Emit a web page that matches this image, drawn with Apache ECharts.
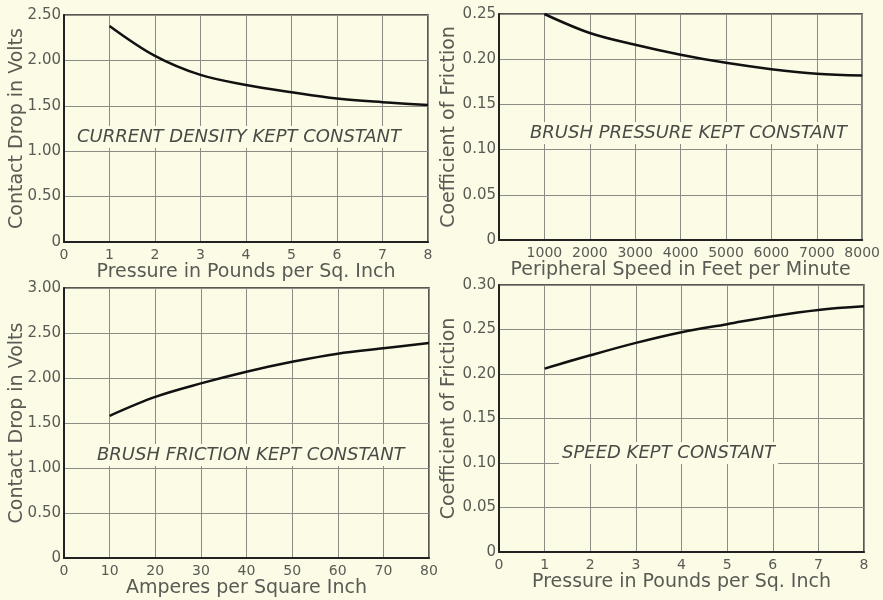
<!DOCTYPE html>
<html>
<head>
<meta charset="utf-8">
<title>Contact drop and coefficient of friction</title>
<script src="https://cdn.jsdelivr.net/npm/echarts@6/dist/echarts.min.js"></script>
<style>
  html, body { margin: 0; padding: 0; background: #fcfbe6; }
  #app { width: 883px; height: 600px; }
</style>
</head>
<body>
<div id="app"></div>
<script>
// values
const pressureX = [1, 2, 3, 4, 5, 6, 7, 8];
const dropVsPressure = [2.38, 2.05, 1.84, 1.73, 1.65, 1.58, 1.54, 1.51];

const speedX = [1000, 2000, 3000, 4000, 5000, 6000, 7000, 8000];
const frictionVsSpeed = [0.25, 0.229, 0.216, 0.205, 0.196, 0.189, 0.184, 0.182];

const amperesX = [10, 20, 30, 40, 50, 60, 70, 80];
const dropVsAmperes = [1.58, 1.79, 1.94, 2.07, 2.18, 2.27, 2.33, 2.39];

const pressureX2 = [1, 2, 3, 4, 5, 6, 7, 8];
const frictionVsPressure = [0.206, 0.221, 0.235, 0.247, 0.256, 0.265, 0.272, 0.276];

const notes = [
  "CURRENT DENSITY KEPT CONSTANT",
  "BRUSH PRESSURE KEPT CONSTANT",
  "BRUSH FRICTION KEPT CONSTANT",
  "SPEED KEPT CONSTANT"
];

const INK = "#222";
const TEXT = "#5a5a55";
const PAPER = "#fcfbe6";
const FONT = "DejaVu Sans";

const pairs = (xs, ys) => xs.map((x, i) => [x, ys[i]]);
const fix2 = v => (v === 0 ? "0" : v.toFixed(2));

function xAxis(gridIndex, name, max, interval, hideZero) {
  return {
    type: "value",
    gridIndex,
    min: 0,
    max,
    interval,
    name,
    nameLocation: "middle",
    nameGap: 18,
    nameTextStyle: { color: TEXT, fontSize: 19, fontFamily: FONT },
    axisLine: { show: true, lineStyle: { color: INK, width: 2 } },
    axisTick: { show: false },
    axisLabel: {
      color: TEXT,
      fontSize: 14,
      fontFamily: FONT,
      margin: 6,
      showMinLabel: !hideZero,
      formatter: v => String(v)
    },
    splitLine: { show: true, lineStyle: { color: "#8c8c84", width: 1 } }
  };
}

function yAxis(gridIndex, name, max, interval, gap) {
  return {
    type: "value",
    gridIndex,
    min: 0,
    max,
    interval,
    name,
    nameLocation: "middle",
    nameGap: gap,
    nameMoveOverlap: false,
    nameTextStyle: { color: TEXT, fontSize: 19, fontFamily: FONT },
    axisLine: { show: true, lineStyle: { color: INK, width: 2 } },
    axisTick: { show: false },
    axisLabel: {
      color: TEXT,
      fontSize: 15,
      fontFamily: FONT,
      margin: 3,
      formatter: fix2
    },
    splitLine: { show: true, lineStyle: { color: "#8c8c84", width: 1 } }
  };
}

function curve(index, data) {
  return {
    type: "line",
    xAxisIndex: index,
    yAxisIndex: index,
    data,
    smooth: 0.35,
    showSymbol: false,
    lineStyle: { color: "#111", width: 2.5 },
    silent: true,
    animation: false
  };
}

function note(text, x, y) {
  return {
    type: "text",
    left: x,
    top: y,
    z: 100,
    style: {
      text,
      fill: "#4a4a46",
      font: "italic 18px " + FONT,
      backgroundColor: PAPER,
      padding: [2, 3]
    }
  };
}

const gridStyle = { show: true, borderColor: INK, borderWidth: 1.5, backgroundColor: "transparent" };

const option = {
  backgroundColor: PAPER,
  animation: false,
  grid: [
    Object.assign({ left: 64, right: 455, top: 15, bottom: 358 }, gridStyle),
    Object.assign({ left: 499, right: 19, top: 14, bottom: 360 }, gridStyle),
    Object.assign({ left: 64, right: 454, top: 288, bottom: 42 }, gridStyle),
    Object.assign({ left: 499, right: 19, top: 285, bottom: 48 }, gridStyle)
  ],
  xAxis: [
    xAxis(0, "Pressure in Pounds per Sq. Inch", 8, 1, false),
    xAxis(1, "Peripheral Speed in Feet per Minute", 8000, 1000, true),
    xAxis(2, "Amperes per Square Inch", 80, 10, false),
    xAxis(3, "Pressure in Pounds per Sq. Inch", 8, 1, false)
  ],
  yAxis: [
    yAxis(0, "Contact Drop in Volts", 2.5, 0.5, 37),
    yAxis(1, "Coefficient of Friction", 0.25, 0.05, 40),
    yAxis(2, "Contact Drop in Volts", 3, 0.5, 37),
    yAxis(3, "Coefficient of Friction", 0.3, 0.05, 40)
  ],
  series: [
    curve(0, pairs(pressureX, dropVsPressure)),
    curve(1, pairs(speedX, frictionVsSpeed)),
    curve(2, pairs(amperesX, dropVsAmperes)),
    curve(3, pairs(pressureX2, frictionVsPressure))
  ],
  graphic: [
    note(notes[0], 74, 126),
    note(notes[1], 527, 122),
    note(notes[2], 94, 444),
    note(notes[3], 559, 442)
  ]
};

const chart = echarts.init(document.getElementById("app"));
chart.setOption(option);
window.onresize = function() {
  chart.resize();
};
</script>
</body>
</html>
